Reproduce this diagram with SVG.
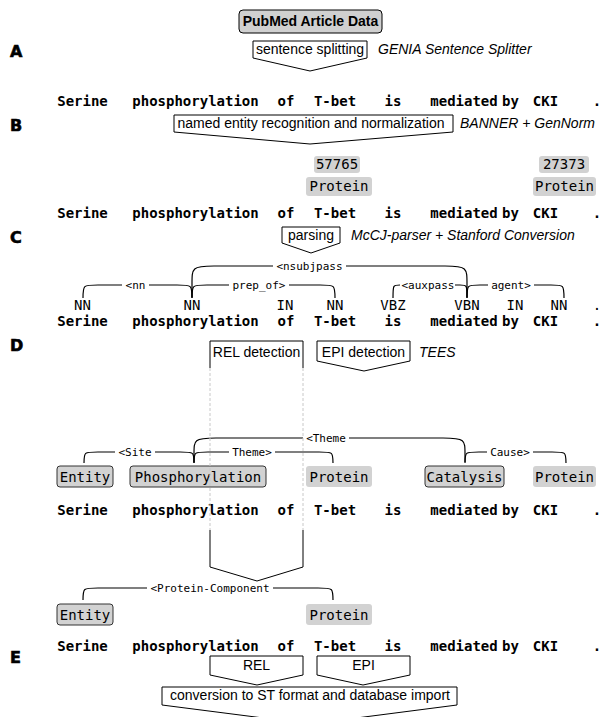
<svg xmlns="http://www.w3.org/2000/svg" width="607" height="717" viewBox="0 0 607 717">
<style>
.w{font:bold 14px "DejaVu Sans Mono",monospace;text-anchor:middle;fill:#000}
.lb{font:14px "DejaVu Sans Mono",monospace;text-anchor:middle;fill:#000}
.al{font:11px "DejaVu Sans Mono",monospace;text-anchor:middle;fill:#000}
.tl{font:14px "Liberation Sans",Arial,sans-serif;text-anchor:middle;fill:#000}
.it{font:italic 14px "Liberation Sans",Arial,sans-serif;fill:#000}
.sec{font:bold 16px "DejaVu Sans",sans-serif;fill:#000;stroke:#000;stroke-width:0.6}
.arc{fill:none;stroke:#000;stroke-width:1.2}
.proc{fill:#fff;stroke:#000;stroke-width:1}
.prot{fill:#d2d2d2}
.ent{fill:#d2d2d2;stroke:#333;stroke-width:1}
.dash{fill:none;stroke:#c8c8c8;stroke-width:1;stroke-dasharray:3 2}
</style>
<rect width="607" height="717" fill="#fff"/>

<g id="labels">
<text class="sec" x="10" y="57">A</text>
<text class="sec" x="10" y="131">B</text>
<text class="sec" x="10" y="243">C</text>
<text class="sec" x="10" y="351">D</text>
<text class="sec" x="10" y="663">E</text>
</g>

<g id="pubmed">
<rect x="239" y="10" width="143" height="23" rx="4" fill="#d0d0d0" stroke="#000"/>
<text x="310.5" y="26" class="tl" style="font-weight:bold">PubMed Article Data</text>
</g>
<g id="ssplit">
<path class="proc" d="M253,41 H367 V58 L310,71 L253,58 Z"/>
<text class="tl" x="310" y="54">sentence splitting</text>
<text class="it" x="378" y="54">GENIA Sentence Splitter</text>
</g>
<g id="rowA">
<text class="w" x="82.5" y="106">Serine</text><text class="w" x="195.5" y="106">phosphorylation</text><text class="w" x="286" y="106">of</text><text class="w" x="335" y="106">T-bet</text><text class="w" x="393" y="106">is</text><text class="w" x="464" y="106">mediated</text><text class="w" x="510.5" y="106">by</text><text class="w" x="545.5" y="106">CKI</text><text class="w" x="597" y="106">.</text>
</g>

<g id="ner">
<path class="proc" d="M174,115 H453 V132 L310,144 L174,132 Z"/>
<text class="tl" x="311" y="128">named entity recognition and normalization</text>
<text class="it" x="460" y="128">BANNER + GenNorm</text>
</g>
<g id="entB">
<rect class="prot" x="314" y="156" width="46" height="17" rx="3"/>
<text class="lb" x="337" y="169">57765</text>
<rect class="prot" x="306" y="177" width="66" height="19" rx="3"/>
<text class="lb" x="339" y="191">Protein</text>
<rect class="prot" x="539" y="156" width="50" height="17" rx="3"/>
<text class="lb" x="564" y="169">27373</text>
<rect class="prot" x="533" y="177" width="63" height="19" rx="3"/>
<text class="lb" x="564.5" y="191">Protein</text>
</g>
<g id="rowB">
<text class="w" x="82.5" y="218">Serine</text><text class="w" x="195.5" y="218">phosphorylation</text><text class="w" x="286" y="218">of</text><text class="w" x="335" y="218">T-bet</text><text class="w" x="393" y="218">is</text><text class="w" x="464" y="218">mediated</text><text class="w" x="510.5" y="218">by</text><text class="w" x="545.5" y="218">CKI</text><text class="w" x="597" y="218">.</text>
</g>

<g id="parse">
<path class="proc" d="M282,227 H340 V243 L311,253 L282,243 Z"/>
<text class="tl" x="311" y="240">parsing</text>
<text class="it" x="351" y="240">McCJ-parser + Stanford Conversion</text>
</g>
<g id="depC">
<path class="arc" d="M192,297 V284 C192,268 192,266 214,266 H273 M346,266 H445 C467,266 467,268 467,284 V297"/>
<text class="al" x="309.5" y="270">&lt;nsubjpass</text>
<path class="arc" d="M83,298 C83,285 83,285 98,285 H122 M149,285 H177 C192,285 192,285 192,298"/>
<text class="al" x="135.5" y="289">&lt;nn</text>
<path class="arc" d="M192,298 C192,285 192,285 207,285 H229 M289,285 H320 C335,285 335,285 335,298"/>
<text class="al" x="259" y="289">prep_of&gt;</text>
<path class="arc" d="M393,298 C393,285 393,285 400,285 M455,285 H460 C467,285 467,285 467,298"/>
<text class="al" x="428" y="289">&lt;auxpass</text>
<path class="arc" d="M467,298 C467,285 467,285 480,285 H488 M534,285 H551 C564,285 564,285 564,298"/>
<text class="al" x="511" y="289">agent&gt;</text>
</g>
<g id="posC">
<text class="lb" x="82.5" y="310">NN</text><text class="lb" x="192" y="310">NN</text><text class="lb" x="285" y="310">IN</text><text class="lb" x="335" y="310">NN</text><text class="lb" x="393" y="310">VBZ</text><text class="lb" x="467" y="310">VBN</text><text class="lb" x="515" y="310">IN</text><text class="lb" x="559" y="310">NN</text><text class="lb" x="597" y="310">.</text>
</g>
<g id="rowC">
<text class="w" x="82.5" y="326">Serine</text><text class="w" x="195.5" y="326">phosphorylation</text><text class="w" x="286" y="326">of</text><text class="w" x="335" y="326">T-bet</text><text class="w" x="393" y="326">is</text><text class="w" x="464" y="326">mediated</text><text class="w" x="510.5" y="326">by</text><text class="w" x="545.5" y="326">CKI</text><text class="w" x="597" y="326">.</text>
</g>

<g id="reldet">
<path class="proc" d="M210,368 V341 H303 V368"/>
<text class="tl" x="256.5" y="357">REL detection</text>
</g>
<g id="epidet">
<path class="proc" d="M317,341 H410 V361 L364,371 L317,361 Z"/>
<text class="tl" x="363.5" y="357">EPI detection</text>
<text class="it" x="419" y="357">TEES</text>
</g>
<g id="depD">
<path class="arc" d="M194,462 V454 C194,440 194,438 216,438 H303 M349,438 H443 C465,438 465,440 465,454 V462"/>
<text class="al" x="326" y="442">&lt;Theme</text>
<path class="arc" d="M84,463 C84,452 84,452 98,452 H115 M155,452 H180 C194,452 194,452 194,463"/>
<text class="al" x="135" y="456">&lt;Site</text>
<path class="arc" d="M194,463 C194,452 194,452 208,452 H229 M275,452 H319 C333,452 333,452 333,463"/>
<text class="al" x="252" y="456">Theme&gt;</text>
<path class="arc" d="M465,463 C465,452 465,452 479,452 H487 M533,452 H552 C566,452 566,452 566,463"/>
<text class="al" x="510" y="456">Cause&gt;</text>
</g>
<g id="entD">
<rect class="ent" x="57" y="466" width="56" height="21" rx="3"/>
<text class="lb" x="85" y="482">Entity</text>
<rect class="ent" x="130" y="466" width="136" height="21" rx="3"/>
<text class="lb" x="198" y="482">Phosphorylation</text>
<rect class="prot" x="306" y="466" width="66" height="21" rx="3"/>
<text class="lb" x="339" y="482">Protein</text>
<rect class="ent" x="425" y="466" width="79" height="21" rx="3"/>
<text class="lb" x="464.5" y="482">Catalysis</text>
<rect class="prot" x="533" y="466" width="63" height="21" rx="3"/>
<text class="lb" x="564.5" y="482">Protein</text>
</g>
<g id="rowD">
<text class="w" x="82.5" y="515">Serine</text><text class="w" x="195.5" y="515">phosphorylation</text><text class="w" x="286" y="515">of</text><text class="w" x="335" y="515">T-bet</text><text class="w" x="393" y="515">is</text><text class="w" x="464" y="515">mediated</text><text class="w" x="510.5" y="515">by</text><text class="w" x="545.5" y="515">CKI</text><text class="w" x="597" y="515">.</text>
</g>
<g id="relpass">
<path class="dash" d="M210,368 V530 M303,368 V530"/>
<path class="proc" style="fill:none" d="M210,530 V567 L257,581 L303,567 V530"/>
</g>

<g id="depE">
<path class="arc" d="M83,600 C83,588 83,588 98,588 H147 M273,588 H318 C333,588 333,588 333,600"/>
<text class="al" x="210" y="592">&lt;Protein-Component</text>
</g>
<g id="entE">
<rect class="ent" x="57" y="604" width="56" height="21" rx="3"/>
<text class="lb" x="85" y="620">Entity</text>
<rect class="prot" x="306" y="604" width="66" height="21" rx="3"/>
<text class="lb" x="339" y="620">Protein</text>
</g>
<g id="rowE">
<text class="w" x="82.5" y="651">Serine</text><text class="w" x="195.5" y="651">phosphorylation</text><text class="w" x="286" y="651">of</text><text class="w" x="335" y="651">T-bet</text><text class="w" x="393" y="651">is</text><text class="w" x="464" y="651">mediated</text><text class="w" x="510.5" y="651">by</text><text class="w" x="545.5" y="651">CKI</text><text class="w" x="597" y="651">.</text>
</g>
<g id="rel">
<path class="proc" d="M210,656 H303 V675 L257,685 L210,675 Z"/>
<text class="tl" x="256.5" y="670">REL</text>
</g>
<g id="epi">
<path class="proc" d="M317,656 H410 V675 L363,685 L317,675 Z"/>
<text class="tl" x="363.5" y="670">EPI</text>
</g>
<g id="conv">
<path class="proc" d="M162,687 H457 V705 L310,724 L162,705 Z"/>
<text class="tl" x="310" y="700">conversion to ST format and database import</text>
</g>
</svg>
